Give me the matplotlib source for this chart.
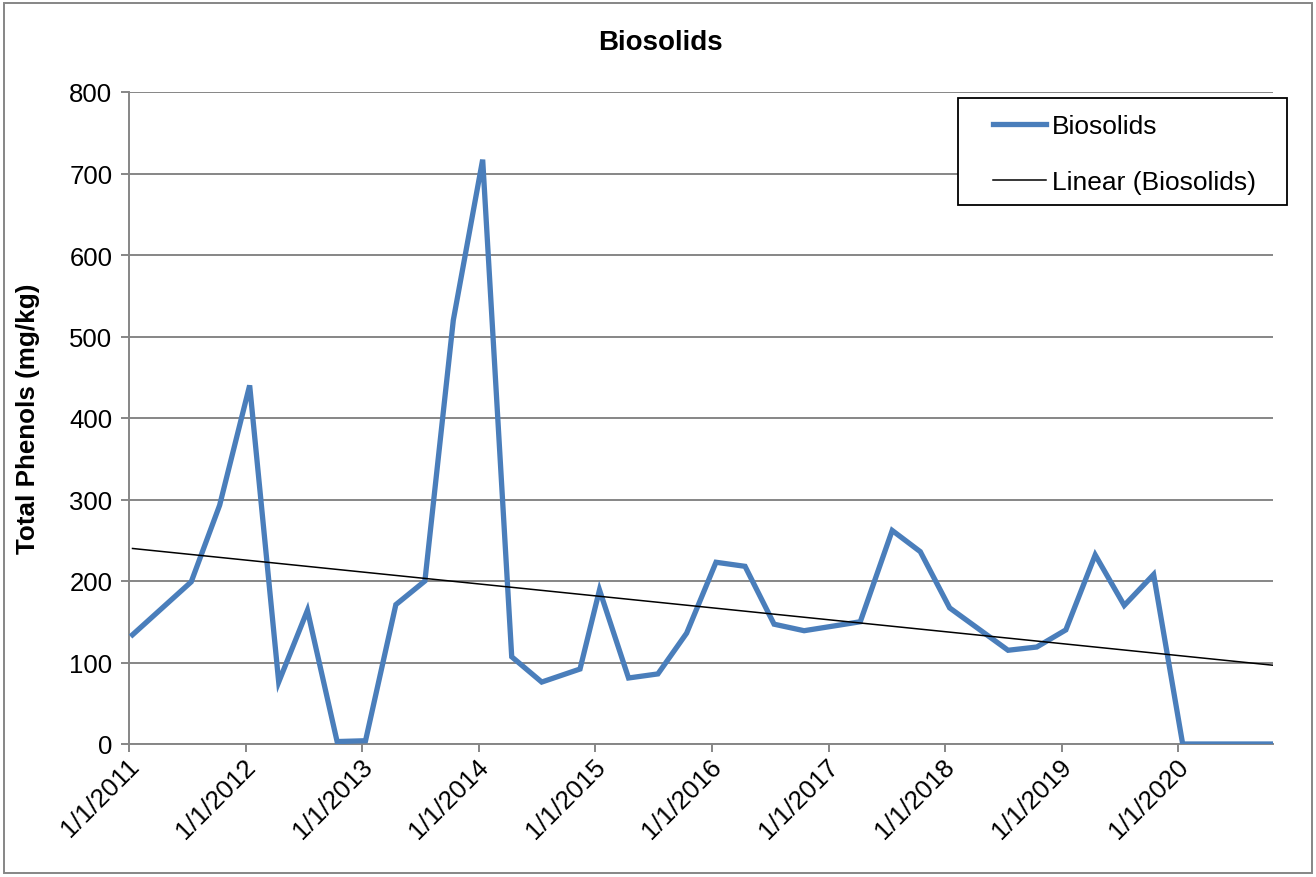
import numpy as np
import matplotlib
matplotlib.use("Agg")
import matplotlib.pyplot as plt
import matplotlib.dates as mdates
from matplotlib.patches import Rectangle
from matplotlib.transforms import ScaledTranslation
import datetime as dt

plt.rcParams['font.family'] = ['Liberation Sans', 'DejaVu Sans']

dates = ["2011-01-12", "2011-07-15", "2011-10-12",
         "2012-01-14", "2012-04-14", "2012-07-13", "2012-10-14",
         "2013-01-11", "2013-04-16", "2013-07-16", "2013-10-13",
         "2014-01-13", "2014-04-14", "2014-07-17", "2014-11-14",
         "2015-01-14", "2015-04-15", "2015-07-16", "2015-10-14",
         "2016-01-14", "2016-04-14", "2016-07-14", "2016-10-16",
         "2017-04-10", "2017-07-19", "2017-10-15",
         "2018-01-15", "2018-07-17", "2018-10-15",
         "2019-01-14", "2019-04-16", "2019-07-16", "2019-10-16",
         "2020-01-15", "2020-04-15", "2020-07-15", "2020-10-24"]
values = [134, 199, 293,
          440, 76, 164, 3,
          4, 171, 200, 520,
          717, 107, 76, 92,
          189, 81, 86, 136,
          223, 218, 147, 139,
          150, 262, 236,
          167, 115, 119,
          140, 232, 170, 208,
          0, 0, 0, 0]
tick_years = list(range(2011, 2021))
tick_labels = [f"1/1/{y}" for y in tick_years]
y_ticks = [0, 100, 200, 300, 400, 500, 600, 700, 800]

x = [dt.datetime.strptime(d, "%Y-%m-%d") for d in dates]
xn = mdates.date2num(x)
coef = np.polyfit(xn, values, 1)
trend_x = np.array([xn[0], xn[-1]])
trend_y = np.polyval(coef, trend_x)

W, H = 1316, 878
fig = plt.figure(figsize=(W/100, H/100), dpi=100)
ax = fig.add_axes([129/W, 1-745/H, (1273-129)/W, (745-93)/H])

blue = '#4A7EBB'
grid_c = '#868686'
ax.plot(x, values, color=blue, lw=3.8, solid_joinstyle='miter', label='Biosolids', zorder=3)
ax.plot(mdates.num2date(trend_x), trend_y, color='black', lw=1.1, label='Linear (Biosolids)', zorder=4)

ax.set_xlim(dt.datetime(2011, 1, 1), x[-1])
ax.set_ylim(0, 800)
ax.set_yticks(y_ticks)
ax.set_xticks([dt.datetime(y, 1, 1) for y in tick_years])
ax.set_xticklabels(tick_labels)
ax.yaxis.grid(True, color=grid_c, lw=1.4)
ax.set_axisbelow(True)
for s in ['top', 'right']:
    ax.spines[s].set_visible(False)
for s in ['left', 'bottom']:
    ax.spines[s].set_color(grid_c)
    ax.spines[s].set_linewidth(1.4)
ax.tick_params(axis='y', length=6, width=1.4, color=grid_c, labelsize=18.5, pad=6)
ax.tick_params(axis='x', length=6, width=1.4, color=grid_c, labelsize=18.7, pad=7)
shift = ScaledTranslation(6/100, 0, fig.dpi_scale_trans)
for lab in ax.get_xticklabels():
    lab.set_rotation(45)
    lab.set_rotation_mode('anchor')
    lab.set_ha('right')
    lab.set_va('center')
    lab.set_transform(lab.get_transform() + shift)

fig.text(660/W, 1-43/H, 'Biosolids', fontsize=20, fontweight='bold', ha='center', va='center')
ax.set_ylabel('Total Phenols (mg/kg)', fontsize=18.7, fontweight='bold')
ax.yaxis.set_label_coords(-(129-28)/(1273-129), 0.5)
ax.yaxis.label.set_va('center')

leg = fig.legend(loc='center left', bbox_to_anchor=(993/W, 1-155/H), fontsize=19,
                 frameon=False, handlelength=2.0, handletextpad=0.22, borderpad=0,
                 labelspacing=1.2, borderaxespad=0)

fig.patches.append(Rectangle((958/W, 1-206/H), (1287-958)/W, (206-99)/H, transform=fig.transFigure,
                             facecolor='white', edgecolor='black', lw=1.3, zorder=5))
leg.set_zorder(6)

fig.patches.append(Rectangle((4/W, 4/H), (W-8)/W, (H-8)/H, transform=fig.transFigure,
                             fill=False, edgecolor=grid_c, lw=1.4))

fig.savefig('out.png', dpi=100)
